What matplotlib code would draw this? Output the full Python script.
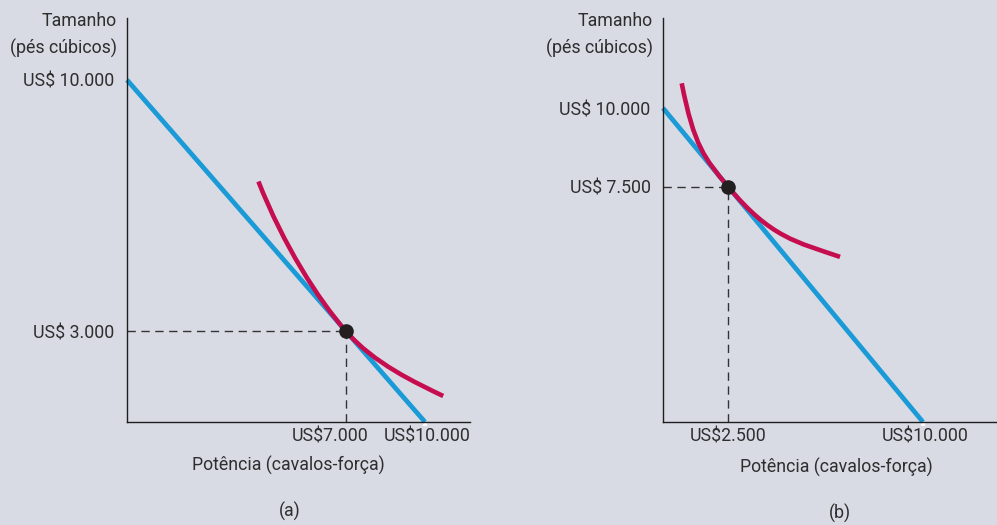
import matplotlib
matplotlib.use("Agg")
import matplotlib.pyplot as plt
import matplotlib.transforms as mtransforms
from matplotlib.path import Path
from matplotlib.patches import PathPatch

plt.rcParams['font.family'] = ['Roboto', 'DejaVu Sans']

bg = '#d8dbe4'
txt = '#2e2e2e'
blue = '#1a9ad6'
red = '#c50d4f'

# ---- painel (a) ----
a_budget_x = [0, 10]
a_budget_y = [10, 0]
# curva de indiferença: início, ponto de tangência, fim + pontos de controle (Bézier)
a_curve_x = [4.41, 5.26, 6.40, 7.35, 8.29, 9.67, 10.61]
a_curve_y = [7.03, 5.16, 3.60, 2.65, 1.71, 1.155, 0.76]
a_point = (7.35, 2.65)
a_yticks = [10, 2.65]
a_ylabels = ['US$ 10.000', 'US$ 3.000']
a_xlabels = ['US$7.000', 'US$10.000']

# ---- painel (b) ----
b_budget_x = [0, 10]
b_budget_y = [10, 0]
b_curve_x = [0.72, 1.199, 1.594, 2.50, 4.14, 5.17, 6.81]
b_curve_y = [10.79, 8.78, 8.406, 7.50, 5.86, 5.729, 5.26]
b_point = (2.5, 7.5)
b_yticks = [10, 7.5]
b_ylabels = ['US$ 10.000', 'US$ 7.500']
b_xlabels = ['US$2.500', 'US$10.000']

W, H = 997, 525
fig = plt.figure(figsize=(W / 100, H / 100), dpi=100, facecolor=bg)


def make_ax(left, right, bottom, top):
    return fig.add_axes([left / W, (H - bottom) / H, (right - left) / W, (bottom - top) / H])


ax_a = make_ax(127, 470, 422, 18)
ax_b = make_ax(663, 996, 422, 18)

panels = [
    (ax_a, 11.51, 11.81, a_budget_x, a_budget_y, a_curve_x, a_curve_y, a_point,
     a_yticks, a_ylabels, a_xlabels, [6.81, 10.07]),
    (ax_b, 12.81, 12.87, b_budget_x, b_budget_y, b_curve_x, b_curve_y, b_point,
     b_yticks, b_ylabels, b_xlabels, [2.5, 10.07]),
]

fs = 12.8
codes = [Path.MOVETO, Path.CURVE4, Path.CURVE4, Path.CURVE4,
         Path.CURVE4, Path.CURVE4, Path.CURVE4]
for ax, xmax, ymax, bx, by, cx, cy, pt, yt, yl, xl, xlpos in panels:
    ax.set_facecolor(bg)
    ax.set_xlim(0, xmax)
    ax.set_ylim(0, ymax)
    for s in ['top', 'right']:
        ax.spines[s].set_visible(False)
    for s in ['left', 'bottom']:
        ax.spines[s].set_color('#1e1e1e')
        ax.spines[s].set_linewidth(1.0)

    ax.plot(bx, by, color=blue, lw=3.4, solid_capstyle='butt', clip_on=False, zorder=2)
    curve = Path(list(zip(cx, cy)), codes)
    ax.add_patch(PathPatch(curve, facecolor='none', edgecolor=red, lw=3.3,
                           capstyle='butt', clip_on=False, zorder=3))
    ax.plot([0, pt[0]], [pt[1], pt[1]], color='#333333', lw=1.0, dashes=(6, 4), zorder=1)
    ax.plot([pt[0], pt[0]], [0, pt[1]], color='#333333', lw=1.0, dashes=(6, 4), zorder=1)
    ax.plot(pt[0], pt[1], 'o', color='#231f20', ms=9.5, zorder=5)

    ax.set_yticks(yt)
    ax.set_yticklabels(yl, fontsize=fs, color=txt)
    ax.tick_params(axis='y', length=0, pad=9)
    ax.set_xticks([])
    # white nicks where the budget line meets the axes
    ax.set_yticks([by[0]], minor=True)
    ax.set_xticks([bx[1]], minor=True)
    ax.tick_params(which='minor', color='white', length=3, width=3, labelleft=False, labelbottom=False)

    trans = mtransforms.blended_transform_factory(ax.transData, ax.transAxes)
    for xv, lab in zip(xlpos, xl):
        ax.text(xv, -0.037, lab, transform=trans, ha='center', va='center', fontsize=fs, color=txt)
    ax.text(-0.03, 0.992, 'Tamanho', transform=ax.transAxes, ha='right', va='center',
            fontsize=fs, color=txt)
    ax.text(-0.03, 0.925, '(pés cúbicos)', transform=ax.transAxes, ha='right', va='center',
            fontsize=fs, color=txt)

fig.text(288 / W, 1 - 465 / H, 'Potência (cavalos-força)', ha='center', va='center', fontsize=fs, color=txt)
fig.text(836 / W, 1 - 467 / H, 'Potência (cavalos-força)', ha='center', va='center', fontsize=fs, color=txt)
fig.text(290 / W, 1 - 511 / H, '(a)', ha='center', va='center', fontsize=fs, color=txt)
fig.text(840 / W, 1 - 513 / H, '(b)', ha='center', va='center', fontsize=fs, color=txt)

fig.savefig('out.png', dpi=100, facecolor=bg)
